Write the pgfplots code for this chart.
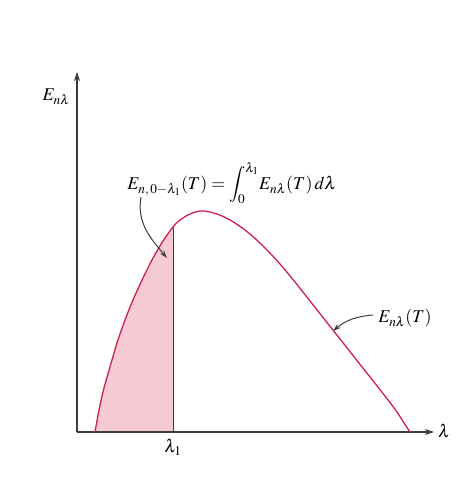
\documentclass[border=0pt]{standalone}
\usepackage{pgfplots}
\pgfplotsset{compat=1.18}
\usepackage{mathptmx}
\usetikzlibrary{arrows.meta}

\definecolor{curvered}{RGB}{205,32,78}
\definecolor{areapink}{RGB}{246,202,212}
\definecolor{inkgray}{RGB}{60,60,60}

% Spectral emissive power curve E_{n lambda}(T)
\pgfplotstableread{
x   y
95  48
99  70
104 92
110 113
117 137
125 160
133 180
143 202
153 222
163 239
173 253
180 260
190 266
200 269
210 268
222 264
235 257
250 246
265 232
280 216
295 198
310 179
325 160
340 141
355 122
370 103
385 84
397 68
404 57
410 48
}\curve

% Portion from 0 to lambda_1
\pgfplotstableread{
x   y
95  48
99  70
104 92
110 113
117 137
125 160
133 180
143 202
153 222
163 239
173 253
}\partial

\begin{document}
\begin{tikzpicture}
\begin{axis}[
  x=1pt, y=1pt,
  xmin=0, xmax=476, ymin=0, ymax=480,
  hide axis, clip=false, scale only axis,
]
\path (axis cs:0,0) rectangle (axis cs:476,480);

% shaded area under the curve up to lambda_1
\addplot[draw=none, fill=areapink, smooth, tension=0.55] table {\partial} -- (axis cs:173,48) -- cycle;

% coordinate axes
\draw[inkgray, line width=1.1pt, -{Stealth[length=9pt,width=6pt]}] (axis cs:77,48) -- (axis cs:434,48);
\draw[inkgray, line width=1.1pt, -{Stealth[length=9pt,width=6pt]}] (axis cs:77,48) -- (axis cs:77,408);

% lambda_1 boundary
\draw[inkgray, line width=0.9pt] (axis cs:173,48) -- (axis cs:173,253);

% the curve
\addplot[curvered, line width=1.3pt, smooth, tension=0.55] table {\curve};

% labels
\node[anchor=east, inner sep=0pt, font=\fontsize{18}{20}\selectfont] at (axis cs:70,383) {$E_{n\lambda}$};
\node[anchor=west, inner sep=0pt, font=\fontsize{18}{20}\selectfont] at (axis cs:438,49) {$\lambda$};
\node[inner sep=0pt, font=\fontsize{18}{20}\selectfont] at (axis cs:173,33) {$\lambda_1$};
\node[inner sep=0pt, font=\fontsize{18}{20}\selectfont] at (axis cs:232,297)
  {$E_{n,\,0-\lambda_1}(T) = \displaystyle\int_0^{\lambda_1}\! E_{n\lambda}(T)\,d\lambda$};
\node[inner sep=0pt, font=\fontsize{18}{20}\selectfont] at (axis cs:405,162) {$E_{n\lambda}(T)$};

% pointer arrows
\draw[inkgray, line width=1pt, -{Stealth[length=8pt,width=5pt]}]
  (axis cs:141,283) to[out=-100, in=130] (axis cs:167,222);
\draw[inkgray, line width=1pt, -{Stealth[length=8pt,width=5pt]}]
  (axis cs:373,165) to[out=185, in=40] (axis cs:333,149);
\end{axis}
\end{tikzpicture}
\end{document}
